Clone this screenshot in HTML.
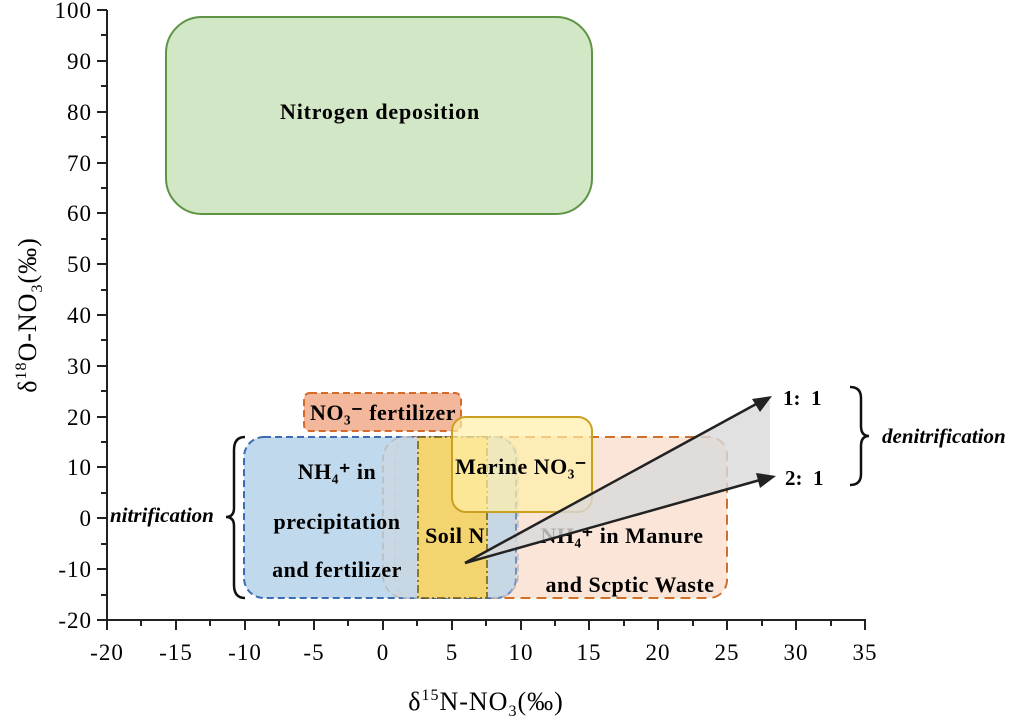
<!DOCTYPE html>
<html><head><style>body{margin:0;background:#fff}svg{display:block}text{font-family:"Liberation Serif",serif}</style></head><body>
<svg width="1024" height="723" viewBox="0 0 1024 723">
<rect x="166" y="17" width="426" height="197" rx="36" fill="#d2e7c6" stroke="#5e9444" stroke-width="2"/>
<text x="380" y="119" font-size="22" font-weight="bold" text-anchor="middle" letter-spacing="0.8">Nitrogen deposition</text>
<rect x="304" y="393" width="157" height="38" rx="6" fill="#f3b79b" stroke="#d66a2a" stroke-width="2" stroke-dasharray="7,4"/>
<rect x="395" y="437" width="332" height="161" rx="18" fill="#fbe5d8" stroke="#d0702c" stroke-width="2" stroke-dasharray="10,6"/>
<rect x="244" y="437" width="272" height="161" rx="20" fill="#bdd7ec" fill-opacity="0.95" stroke="#3a6db5" stroke-width="2" stroke-dasharray="7,4"/>
<rect x="383" y="437" width="135" height="161" rx="22" fill="#d8d8d8" fill-opacity="0.35" stroke="#bbb" stroke-width="1.5" stroke-dasharray="7,4"/>
<rect x="418" y="437" width="69" height="161" fill="#f4d46e" stroke="#6b5a10" stroke-width="1.5" stroke-dasharray="8,3,2,3"/>
<rect x="452" y="417" width="140" height="95" rx="14" fill="#fff0a8" fill-opacity="0.7" stroke="#c9a020" stroke-width="2"/>
<g font-size="22" font-weight="bold" text-anchor="middle" letter-spacing="0.5">
<text x="383" y="420">NO₃⁻  fertilizer</text>
<text x="521" y="474">Marine NO₃⁻</text>
<text x="337" y="479">NH₄⁺  in</text>
<text x="337" y="529">precipitation</text>
<text x="337" y="577">and fertilizer</text>
<text x="455" y="543">Soil N</text>
<text x="622" y="543">NH₄⁺  in Manure</text>
<text x="630" y="592">and Scptic Waste</text>
</g>
<polygon points="465,563 770,397 770,477" fill="#d9d9d9" fill-opacity="0.8"/>
<g stroke="#222" stroke-width="2.5"><line x1="465" y1="563" x2="758" y2="403"/><line x1="465" y1="563" x2="760" y2="480"/></g>
<polygon points="772,396 752,399 760,412" fill="#222"/>
<polygon points="776,476 756,473 760,488" fill="#222"/>
<g font-size="21" font-weight="bold"><text x="783" y="405" xml:space="preserve">1:  1</text><text x="785" y="485" xml:space="preserve">2:  1</text></g>
<path d="M245,437 Q234,437 234,450 L234,508 Q234,517 226,517 Q234,517 234,526 L234,585 Q234,598 245,598" fill="none" stroke="#111" stroke-width="2.5"/>
<text x="110" y="522" font-size="21" font-weight="bold" font-style="italic">nitrification</text>
<path d="M850,387 Q861,387 861,398 L861,426 Q861,436 869,436 Q861,436 861,446 L861,474 Q861,485 850,485" fill="none" stroke="#111" stroke-width="2.5"/>
<text x="882" y="443" font-size="21" font-weight="bold" font-style="italic">denitrification</text>
<g stroke="#222" stroke-width="2" fill="none">
<line x1="107" y1="10" x2="107" y2="621"/><line x1="106" y1="620" x2="866" y2="620"/>
</g>
<g stroke="#222" stroke-width="2">
<path d="M97,10h10M97,61h10M97,112h10M97,163h10M97,213h10M97,264h10M97,315h10M97,366h10M97,417h10M97,467h10M97,518h10M97,569h10M97,620h10"/>
<path d="M101,35h6M101,86h6M101,137h6M101,188h6M101,239h6M101,290h6M101,340h6M101,391h6M101,442h6M101,493h6M101,544h6M101,595h6"/>
<path d="M107,620v10M176,620v10M245,620v10M314,620v10M383,620v10M452,620v10M521,620v10M589,620v10M658,620v10M727,620v10M796,620v10M865,620v10"/>
<path d="M141,620v6M210,620v6M279,620v6M348,620v6M417,620v6M486,620v6M555,620v6M624,620v6M693,620v6M762,620v6M831,620v6"/>
</g>
<g font-size="23" text-anchor="end" letter-spacing="1">
<text x="92" y="18">100</text><text x="92" y="69">90</text><text x="92" y="120">80</text><text x="92" y="171">70</text><text x="92" y="221">60</text><text x="92" y="272">50</text><text x="92" y="323">40</text><text x="92" y="374">30</text><text x="92" y="425">20</text><text x="92" y="475">10</text><text x="92" y="526">0</text><text x="92" y="577">-10</text><text x="92" y="628">-20</text>
</g>
<g font-size="23" text-anchor="middle" letter-spacing="1">
<text x="107" y="660">-20</text><text x="176" y="660">-15</text><text x="245" y="660">-10</text><text x="314" y="660">-5</text><text x="383" y="660">0</text><text x="452" y="660">5</text><text x="521" y="660">10</text><text x="589" y="660">15</text><text x="658" y="660">20</text><text x="727" y="660">25</text><text x="796" y="660">30</text><text x="865" y="660">35</text>
</g>
<text x="486" y="710" font-size="26" text-anchor="middle" letter-spacing="1">δ<tspan font-size="16" dy="-10">15</tspan><tspan dy="10">N-NO</tspan><tspan font-size="16" dy="6">3</tspan><tspan dy="-6">(‰)</tspan></text>
<text transform="translate(36,315) rotate(-90)" font-size="26" text-anchor="middle" letter-spacing="1">δ<tspan font-size="16" dy="-10">18</tspan><tspan dy="10">O-NO</tspan><tspan font-size="16" dy="6">3</tspan><tspan dy="-6">(‰)</tspan></text>
</svg>
</body></html>
